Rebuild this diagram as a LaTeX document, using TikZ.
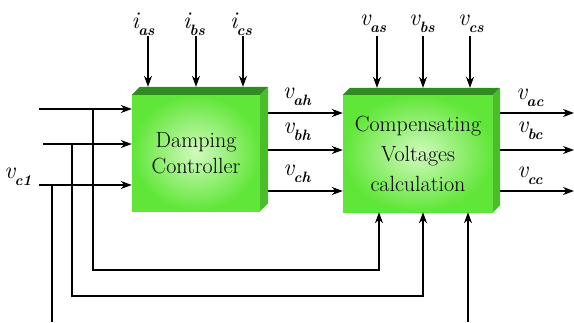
\documentclass[tikz,border=0pt]{standalone}
\usepackage{fontspec}
\usetikzlibrary{arrows.meta,calc}
\definecolor{cFront}{RGB}{96,230,56}
\definecolor{cLight}{RGB}{210,250,190}
\definecolor{cTop}{RGB}{48,140,32}
\definecolor{cSide}{RGB}{74,190,42}
\newcommand{\sig}[2]{{\fontsize{24}{24}\selectfont\itshape #1}\kern-0.5pt\raisebox{-7pt}{\fontsize{15}{15}\selectfont\bfseries\itshape #2}}
\tikzset{
  arr/.style={line width=1.1pt,-{Stealth[length=11pt,width=8pt,inset=3.5pt]}},
  ln/.style={line width=1.1pt},
  frontbox/.style={draw=none,inner sep=0pt,shading=radial,inner color=cLight,outer color=cFront,align=center},
  lab/.style={inner sep=0pt}
}
\begin{document}
\begin{tikzpicture}[x=1pt,y=-1pt]
\useasboundingbox (0,0) rectangle (574,322);
% blocks
\node[frontbox,minimum width=128pt,minimum height=116pt,font=\fontsize{22}{26}\selectfont] (dc) at (196,153) {Damping\\Controller};
\node[frontbox,minimum width=150pt,minimum height=117pt,font=\fontsize{22}{30}\selectfont] (cv) at (418,153.5) {Compensating\\Voltages\\calculation};
% 3D faces
\fill[cTop] (dc.north west) -- ([shift={(8pt,8pt)}]dc.north west) -- ([shift={(8pt,8pt)}]dc.north east) -- (dc.north east) -- cycle;
\fill[cSide] (dc.north east) -- ([shift={(8pt,8pt)}]dc.north east) -- ([shift={(8pt,8pt)}]dc.south east) -- (dc.south east) -- cycle;
\fill[cTop] (cv.north west) -- ([shift={(7pt,7pt)}]cv.north west) -- ([shift={(7pt,7pt)}]cv.north east) -- (cv.north east) -- cycle;
\fill[cSide] (cv.north east) -- ([shift={(7pt,7pt)}]cv.north east) -- ([shift={(7pt,7pt)}]cv.south east) -- (cv.south east) -- cycle;
\coordinate (dcB) at ([shift={(8pt,8pt)}]dc.north west);
\coordinate (cvB) at ([shift={(7pt,7pt)}]cv.north west);
\coordinate (dcR) at ([xshift=8pt]dc.east);
\coordinate (cvR) at ([xshift=7pt]cv.east);
% labels
\node[lab] (ias) at (143,24) {\sig{i}{as}};
\node[lab] (ibs) at (194,24) {\sig{i}{bs}};
\node[lab] (ics) at (241,24) {\sig{i}{cs}};
\node[lab] (vas) at (373,24) {\sig{v}{as}};
\node[lab] (vbs) at (422,24) {\sig{v}{bs}};
\node[lab] (vcs) at (471,24) {\sig{v}{cs}};
\node[lab] (vah) at (297,97) {\sig{v}{ah}};
\node[lab] (vbh) at (297,132) {\sig{v}{bh}};
\node[lab] (vch) at (297,174) {\sig{v}{ch}};
\node[lab] (vac) at (530,98) {\sig{v}{ac}};
\node[lab] (vbc) at (530,131) {\sig{v}{bc}};
\node[lab] (vcc) at (530,176) {\sig{v}{cc}};
\node[lab] (vc1) at (18,177) {\sig{v}{c1}};
% coordinates
\coordinate (ti1) at (148,36); \coordinate (ti2) at (196,36); \coordinate (ti3) at (243,36);
\coordinate (tv1) at (377,36); \coordinate (tv2) at (423,36); \coordinate (tv3) at (470,36);
\coordinate (in1) at (39,109); \coordinate (in2) at (43,144); \coordinate (in3) at (39,185);
\coordinate (ya) at (0,113); \coordinate (yb) at (0,150); \coordinate (yc) at (0,191);
\coordinate (oa) at (574,113); \coordinate (ob) at (574,150); \coordinate (oc) at (574,191);
\coordinate (fa) at (93,109); \coordinate (fb) at (72,144); \coordinate (fc) at (52,185);
\coordinate (fa2) at (93,270); \coordinate (fb2) at (72,296); \coordinate (fc2) at (52,322);
\coordinate (ba) at (379,270); \coordinate (bb) at (423,296); \coordinate (bc) at (468,322);
% top inputs
\foreach \c in {ti1,ti2,ti3} \draw[arr] (\c) -- (\c |- dcB);
\foreach \c in {tv1,tv2,tv3} \draw[arr] (\c) -- (\c |- cvB);
% left inputs
\foreach \c in {in1,in2,in3} \draw[arr] (\c) -- (dc.west |- \c);
% between blocks
\foreach \c in {ya,yb,yc} \draw[arr] (dcR |- \c) -- (cv.west |- \c);
% outputs
\draw[arr] (cvR |- ya) -- (oa);
\draw[arr] (cvR |- yb) -- (ob);
\draw[arr] (cvR |- yc) -- (oc);
% feedback
\draw[arr] (fa) -- (fa2) -- (ba) -- (ba |- cv.south);
\draw[arr] (fb) -- (fb2) -- (bb) -- (bb |- cv.south);
\draw[ln] (fc) -- (fc2);
\draw[arr] (bc) -- (bc |- cv.south);
\end{tikzpicture}
\end{document}
